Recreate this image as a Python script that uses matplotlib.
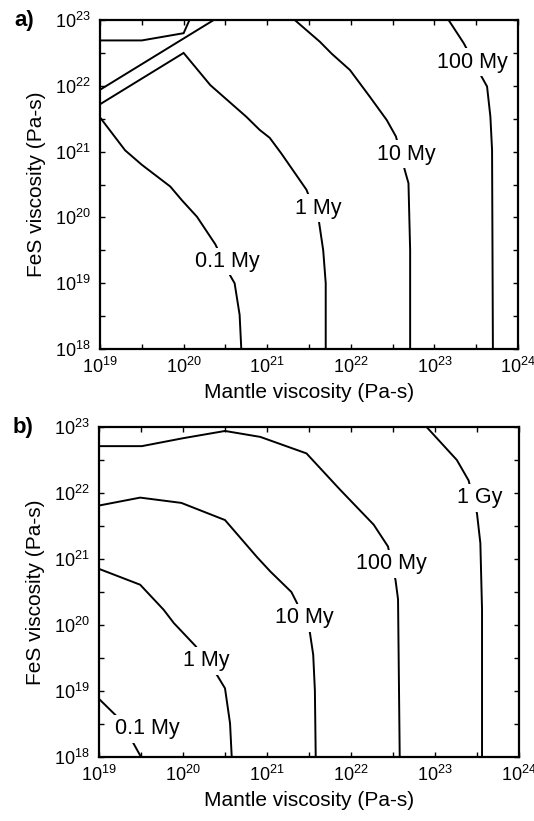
import numpy as np
import matplotlib
matplotlib.use("Agg")
import matplotlib.pyplot as plt
from matplotlib.ticker import LogLocator, NullFormatter

plt.rcParams['font.family'] = ['Liberation Sans', 'DejaVu Sans']
plt.rcParams['mathtext.fontset'] = 'custom'
plt.rcParams['mathtext.rm'] = 'Liberation Sans'

# contour paths as log10(mantle viscosity), log10(FeS viscosity)
# panel a
a_top_x = [19.0, 19.5, 20.0, 20.07]
a_top_y = [22.69, 22.69, 22.80, 23.0]
a_diag_x = [19.0, 20.36]
a_diag_y = [21.94, 23.0]
a_01_x = [19.0, 19.30, 19.50, 19.84, 19.98, 20.16, 20.38, 20.56, 20.61, 20.67, 20.69]
a_01_y = [21.52, 21.02, 20.80, 20.47, 20.26, 20.01, 19.59, 19.11, 19.0, 18.52, 18.0]
a_1_x = [19.0, 20.0, 20.32, 20.75, 20.91, 21.03, 21.17, 21.47, 21.62, 21.67, 21.70, 21.70]
a_1_y = [21.72, 22.50, 22.01, 21.53, 21.33, 21.21, 20.97, 20.42, 19.93, 19.50, 19.0, 18.0]
a_10_x = [21.33, 21.63, 21.77, 21.99, 22.23, 22.43, 22.54, 22.65, 22.69, 22.71, 22.71]
a_10_y = [23.0, 22.67, 22.49, 22.24, 21.83, 21.48, 21.23, 20.70, 20.52, 19.50, 18.0]
a_100_x = [23.17, 23.35, 23.56, 23.63, 23.67, 23.69, 23.70]
a_100_y = [23.0, 22.65, 22.15, 21.99, 21.53, 21.02, 18.0]
a_labels = ["0.1 My", "1 My", "10 My", "100 My"]
a_label_x = [20.52, 21.61, 22.66, 23.45]
a_label_y = [19.33, 20.14, 20.96, 22.36]

# panel b
b_01_x = [19.0, 19.20, 19.40, 19.50]
b_01_y = [18.88, 18.63, 18.23, 18.0]
b_1_x = [19.0, 19.49, 19.77, 19.89, 20.15, 20.41, 20.50, 20.56, 20.58]
b_1_y = [20.85, 20.61, 20.23, 20.03, 19.68, 19.23, 19.04, 18.51, 18.0]
b_10_x = [19.0, 19.49, 19.98, 20.5, 20.88, 21.04, 21.29, 21.35, 21.51, 21.55, 21.57, 21.58]
b_10_y = [21.81, 21.93, 21.85, 21.59, 21.03, 20.81, 20.50, 20.35, 19.89, 19.55, 19.01, 18.0]
b_100_x = [19.0, 19.51, 20.0, 20.5, 20.92, 21.47, 21.87, 22.27, 22.44, 22.53, 22.56, 22.58]
b_100_y = [22.71, 22.71, 22.83, 22.94, 22.85, 22.60, 22.05, 21.52, 21.19, 20.68, 20.39, 18.0]
b_1g_x = [22.90, 23.26, 23.40, 23.50, 23.54, 23.56, 23.56]
b_1g_y = [23.0, 22.50, 22.19, 21.69, 21.24, 20.23, 18.0]
b_labels = ["0.1 My", "1 My", "10 My", "100 My", "1 Gy"]
b_label_x = [19.58, 20.28, 21.45, 22.48, 23.53]
b_label_y = [18.43, 19.46, 20.11, 20.93, 21.93]

panel_a = [(a_top_x, a_top_y), (a_diag_x, a_diag_y), (a_01_x, a_01_y),
           (a_1_x, a_1_y), (a_10_x, a_10_y), (a_100_x, a_100_y)]
panel_b = [(b_01_x, b_01_y), (b_1_x, b_1_y), (b_10_x, b_10_y),
           (b_100_x, b_100_y), (b_1g_x, b_1g_y)]

fig = plt.figure(figsize=(5.34, 8.21), dpi=100)
ax_a = fig.add_axes([0.1873, 0.5749, 0.7827, 0.4007])
ax_b = fig.add_axes([0.1854, 0.0780, 0.7865, 0.4019])


def draw(ax, paths, labels, lx, ly, tag):
    for xs, ys in paths:
        ax.plot(10.0 ** np.array(xs), 10.0 ** np.array(ys), color='black', lw=1.4,
                solid_joinstyle='miter')
    for t, x, y in zip(labels, lx, ly):
        ax.text(10.0 ** x, 10.0 ** y, t, fontsize=15.5, ha='center', va='center',
                bbox=dict(facecolor='white', edgecolor='none', pad=2.5))
    ax.set_xscale('log')
    ax.set_yscale('log')
    ax.set_xlim(1e19, 1e24)
    ax.set_ylim(1e18, 1e23)
    ax.xaxis.set_major_locator(LogLocator(base=10, numticks=10))
    ax.yaxis.set_major_locator(LogLocator(base=10, numticks=10))
    ax.xaxis.set_minor_locator(LogLocator(base=10, subs=(10 ** 0.5,), numticks=10))
    ax.yaxis.set_minor_locator(LogLocator(base=10, subs=(10 ** 0.5,), numticks=10))
    ax.xaxis.set_minor_formatter(NullFormatter())
    ax.yaxis.set_minor_formatter(NullFormatter())
    ax.tick_params(which='both', direction='in', top=True, right=True,
                   length=3.5, width=1.0, labelsize=13)
    ax.tick_params(axis='x', which='major', pad=6)
    ax.tick_params(axis='y', which='major', pad=7)
    for s in ax.spines.values():
        s.set_linewidth(1.6)
    ax.set_xlabel("Mantle viscosity (Pa-s)", fontsize=15, labelpad=4)
    ax.set_ylabel("FeS viscosity (Pa-s)", fontsize=15, labelpad=6)
    ax.text(-0.205, 1.0, tag, transform=ax.transAxes, fontsize=16,
            fontweight='bold', ha='left', va='center')


draw(ax_a, panel_a, a_labels, a_label_x, a_label_y, "a)")
draw(ax_b, panel_b, b_labels, b_label_x, b_label_y, "b)")

fig.savefig("out.png", dpi=100)
